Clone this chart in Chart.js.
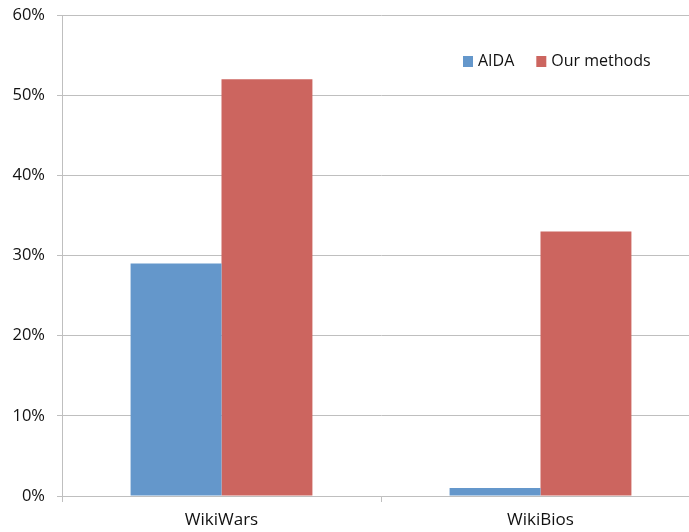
<!DOCTYPE html>
<html lang="en">
<head>
  <meta charset="UTF-8">
  <title>AIDA vs Our methods</title>
  <script src="https://cdn.jsdelivr.net/npm/chart.js"></script>
  <style>
    body { margin: 0; overflow: hidden; background: #fff; }
    #wrap { width: 710px; height: 532px; }
  </style>
</head>
<body>
  <div id="wrap"><canvas id="chart" width="710" height="532"></canvas></div>
  <script>
    const categories = ['WikiWars', 'WikiBios'];
    const aida = [29, 1];
    const ourMethods = [52, 33];
    const yTicks = [0, 10, 20, 30, 40, 50, 60];

    const FONT = '"Open Sans", sans-serif';
    const gridColor = '#bfbfbf';

    // legend drawn inside the plot, top right
    const innerLegend = {
      id: 'innerLegend',
      afterDraw(chart) {
        const c = chart.ctx;
        c.save();
        c.font = '16px ' + FONT;
        c.textBaseline = 'middle';
        let x = 463;
        const y = 61;
        chart.data.datasets.forEach(ds => {
          c.fillStyle = ds.backgroundColor;
          c.fillRect(x, y - 5, 10, 11);
          c.fillStyle = '#111';
          c.fillText(ds.label, x + 15, y);
          x += 15 + c.measureText(ds.label).width + 22;
        });
        c.restore();
      }
    };

    new Chart(document.getElementById('chart'), {
      type: 'bar',
      data: {
        labels: categories,
        datasets: [
          { label: 'AIDA', data: aida, backgroundColor: '#6497cb' },
          { label: 'Our methods', data: ourMethods, backgroundColor: '#cc655f' }
        ]
      },
      options: {
        responsive: false,
        animation: false,
        layout: { padding: { top: 15, right: 10, left: 0, bottom: 0 } },
        categoryPercentage: 0.57,
        barPercentage: 1.0,
        plugins: {
          legend: { display: false },
          tooltip: { enabled: false }
        },
        scales: {
          x: {
            grid: { drawOnChartArea: false, drawTicks: true, tickLength: 6, color: gridColor },
            border: { color: gridColor },
            ticks: { color: '#111', font: { family: FONT, size: 17 }, padding: 8 },
            afterFit(s) { s.height = 36; s.paddingLeft = 0; s.paddingRight = 0; }
          },
          y: {
            min: 0,
            max: 60,
            afterBuildTicks(s) { s.ticks = yTicks.map(v => ({ value: v })); },
            grid: { color: gridColor, tickLength: 5 },
            border: { color: gridColor },
            ticks: {
              color: '#111',
              font: { family: FONT, size: 16.5 },
              padding: 12,
              callback: v => v + '%'
            },
            afterFit(s) { s.width = 62; s.paddingTop = 0; s.paddingBottom = 0; }
          }
        }
      },
      plugins: [innerLegend]
    });
  </script>
</body>
</html>
